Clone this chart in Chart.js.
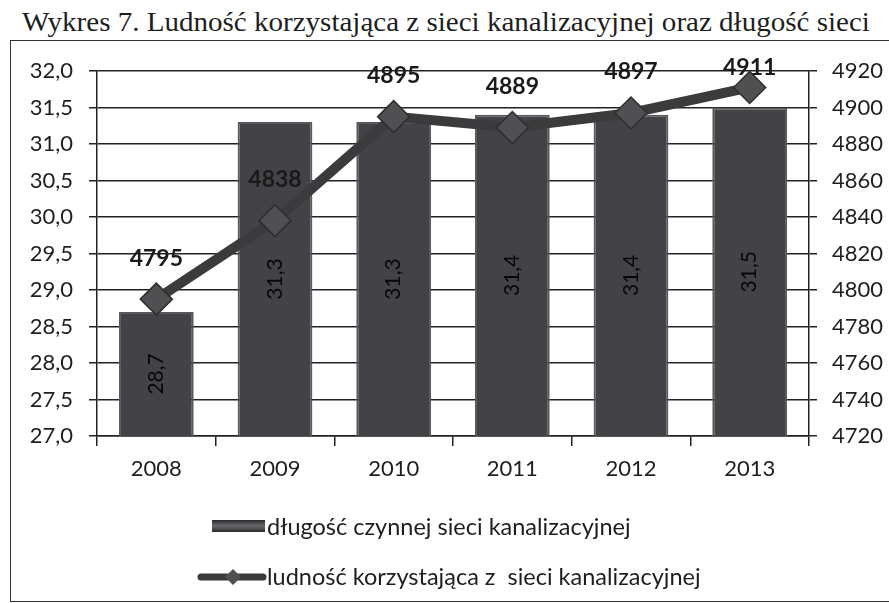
<!DOCTYPE html>
<html><head><meta charset="utf-8">
<script src="https://cdn.jsdelivr.net/npm/chart.js@4/dist/chart.umd.min.js"></script>
<style>
html,body{margin:0;padding:0;background:#fff;width:889px;height:603px;overflow:hidden;}
#title{position:absolute;top:6px;left:0;width:892px;text-align:center;font-family:"Liberation Serif","Times New Roman",serif;font-size:28px;color:#1e1e1e;white-space:nowrap;}
#title span{display:inline-block;transform-origin:center;}
#box{position:absolute;left:10px;top:40px;width:920px;height:562px;border:1.5px solid #333;box-sizing:border-box;}
#wrap{position:absolute;left:0;top:0;width:889px;height:603px;}
</style></head><body>
<div id="title"><span id="tt">Wykres 7. Ludność korzystająca z sieci kanalizacyjnej oraz długość sieci</span></div>
<div id="box"></div>
<div id="wrap"><canvas id="c" width="889" height="603"></canvas></div>
<script>
// ---- data ----
const categories = ['2008', '2009', '2010', '2011', '2012', '2013'];
const networkLength = [28.7, 31.3, 31.3, 31.4, 31.4, 31.5];
const population = [4795, 4838, 4895, 4889, 4897, 4911];
const seriesNames = ['długość czynnej sieci kanalizacyjnej', 'ludność korzystająca z  sieci kanalizacyjnej'];
const leftRange = [27, 32, 0.5];
const rightRange = [4720, 4920, 20];

// fit title width
const tt = document.getElementById('tt');
const tw = tt.getBoundingClientRect().width;
tt.style.transform = 'scaleX(' + (848 / tw) + ')';

const FONT = 'Lato';
const TXT = '#1e1e1e';
const AXIS = '#222';
const fmt1 = v => v.toFixed(1).replace('.', ',');

const labelPlugin = {
  id: 'valueLabels',
  afterDatasetsDraw(chart) {
    const ctx = chart.ctx;
    const area = chart.chartArea;
    const xs = chart.scales.x, ys = chart.scales.y;
    // bar value labels: vertical text centred in each bar
    ctx.save();
    ctx.font = '21px ' + FONT;
    ctx.fillStyle = '#070707';
    ctx.textAlign = 'center';
    ctx.textBaseline = 'middle';
    for (let i = 0; i < networkLength.length; i++) {
      const x = xs.getPixelForValue(i);
      const top = ys.getPixelForValue(networkLength[i]);
      const cy = (top + area.bottom) / 2;
      ctx.save();
      ctx.translate(x, cy);
      ctx.rotate(-Math.PI / 2);
      ctx.fillText(fmt1(networkLength[i]), 0, 0);
      ctx.restore();
    }
    ctx.restore();
    // line value labels
    const meta = chart.getDatasetMeta(1);
    ctx.save();
    ctx.font = 'bold 23px ' + FONT;
    ctx.fillStyle = '#1a1a1a';
    ctx.textAlign = 'center';
    ctx.textBaseline = 'middle';
    meta.data.forEach((el, i) => {
      const y = Math.max(el.y - 41, area.top - 3);
      ctx.fillText(String(population[i]), el.x, y);
    });
    ctx.restore();
  },
  afterDraw(chart) {
    const ctx = chart.ctx;
    const ds = chart.data.datasets;
    ctx.save();
    const g = ctx.createLinearGradient(0, 520, 0, 532);
    g.addColorStop(0, '#2a2a2d'); g.addColorStop(0.5, '#6a6a6e'); g.addColorStop(1, '#2a2a2d');
    ctx.fillStyle = g;
    ctx.fillRect(212, 520, 53, 12);
    ctx.font = '23.5px ' + FONT;
    ctx.fillStyle = TXT;
    ctx.textAlign = 'left';
    ctx.textBaseline = 'middle';
    ctx.fillText(ds[0].label, 267, 527);
    ctx.strokeStyle = ds[1].borderColor;
    ctx.lineWidth = 7;
    ctx.lineCap = 'round';
    ctx.beginPath(); ctx.moveTo(201, 577); ctx.lineTo(263, 577); ctx.stroke();
    ctx.fillStyle = ds[1].pointBackgroundColor;
    ctx.beginPath();
    ctx.moveTo(233, 569); ctx.lineTo(241, 577); ctx.lineTo(233, 585); ctx.lineTo(225, 577); ctx.closePath();
    ctx.fill();
    ctx.fillStyle = TXT;
    ctx.fillText(ds[1].label, 267, 577);
    ctx.restore();
  }
};

const tickFont = { family: FONT, size: 22 };

new Chart(document.getElementById('c'), {
  data: {
    labels: categories,
    datasets: [
      {
        type: 'bar', label: seriesNames[0], data: networkLength, yAxisID: 'y', order: 1,
        backgroundColor: '#434347', borderColor: '#58585d', borderWidth: 2,
        barPercentage: 0.63, categoryPercentage: 1.0
      },
      {
        type: 'line', label: seriesNames[1], data: population, yAxisID: 'y1', order: 0,
        borderColor: '#3b3b3d', borderWidth: 10, tension: 0,
        pointStyle: 'rectRot', pointRadius: 16, pointHoverRadius: 16,
        pointBackgroundColor: '#505053', pointBorderColor: '#2e2e30', pointBorderWidth: 1.5
      }
    ]
  },
  options: {
    responsive: false,
    animation: false,
    events: [],
    layout: { padding: { top: 71, bottom: 127, left: 0, right: 0 } },
    plugins: { legend: { display: false }, tooltip: { enabled: false }, title: { display: false } },
    scales: {
      x: {
        grid: { display: true, drawOnChartArea: false, drawTicks: true, tickLength: 10, color: AXIS, lineWidth: 1.5, offset: true },
        border: { display: true, color: AXIS, width: 1.5 },
        ticks: { font: tickFont, color: TXT, padding: 10, maxRotation: 0 },
        afterFit(s) { s.height = 40; }
      },
      y: {
        position: 'left', min: leftRange[0], max: leftRange[1],
        ticks: { stepSize: leftRange[2], font: tickFont, color: TXT, padding: 16, callback: v => fmt1(v) },
        grid: { color: AXIS, lineWidth: 1.5, tickLength: 8 },
        border: { display: true, color: AXIS, width: 1.5 },
        afterFit(s) { s.width = 97; }
      },
      y1: {
        position: 'right', min: rightRange[0], max: rightRange[1],
        ticks: { stepSize: rightRange[2], font: tickFont, color: TXT, padding: 15, callback: v => String(v) },
        grid: { drawOnChartArea: false, color: AXIS, lineWidth: 1.5, tickLength: 8 },
        border: { display: true, color: AXIS, width: 1.5 },
        afterFit(s) { s.width = 80; }
      }
    }
  },
  plugins: [labelPlugin]
});
</script>
</body></html>
